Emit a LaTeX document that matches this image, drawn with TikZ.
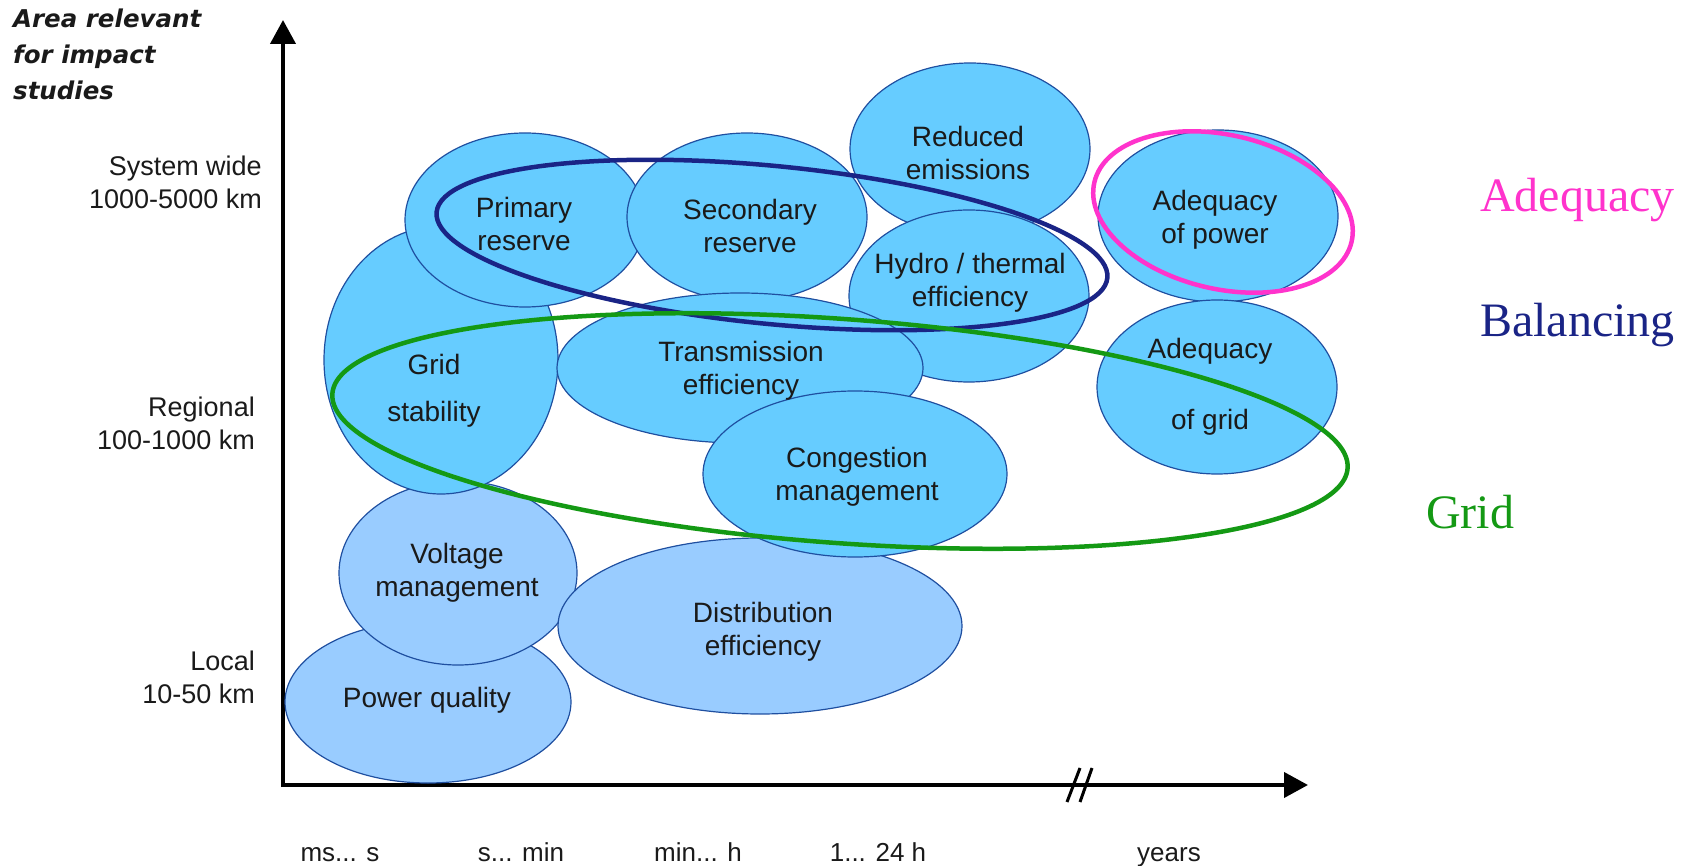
\documentclass[tikz,border=0pt]{standalone}
\usepackage{fontspec}
\setmainfont{Liberation Sans}
\newfontfamily\serifface{Liberation Serif}
\newfontfamily\headface{DejaVu Sans}
\usetikzlibrary{shapes.geometric,arrows.meta}
\definecolor{bubtop}{HTML}{66CCFF}
\definecolor{bublow}{HTML}{99CCFF}
\definecolor{bubedge}{HTML}{1F4FA0}
\definecolor{adeqc}{HTML}{FF33CC}
\definecolor{balanc}{HTML}{1A2486}
\definecolor{gridc}{HTML}{149914}
\definecolor{txtc}{HTML}{1A1A1A}
\begin{document}
\begin{tikzpicture}[x=1pt,y=1pt,
  bub/.style={ellipse, draw=bubedge, line width=1.2pt, inner sep=0pt, fill=bubtop},
  bublo/.style={bub, fill=bublow},
  lbl/.style={align=center, text=txtc, inner sep=0pt, font=\fontsize{28}{33}\selectfont},
  axlbl/.style={align=right, anchor=east, text=txtc, inner sep=0pt, font=\fontsize{27}{33}\selectfont},
  tlbl/.style={anchor=base, text=txtc, inner sep=0pt, font=\fontsize{26}{30}\selectfont},
  grp/.style={line width=4.5pt},
  axisline/.style={line width=4pt, -{Triangle[length=24pt,width=25pt]}},
  catlbl/.style={anchor=base west, inner sep=0pt, font=\serifface\fontsize{48}{56}\selectfont}
]
\useasboundingbox (0,0) rectangle (1687,-866);

% axes
\coordinate (o) at (283,-785);
\coordinate (ytip) at (283,-20);
\coordinate (xtip) at (1308,-785);
\draw[axisline] ([yshift=-2pt]o) -- (ytip);
\draw[axisline] ([xshift=-2pt]o) -- (xtip);
% axis break
\draw[line width=3pt] (1067,-802) -- (1080,-768);
\draw[line width=3pt] (1080,-802) -- (1092,-768);

% impact areas
\node[bublo, minimum width=286, minimum height=162] (pq) at (428,-702) {};
\node[bublo, minimum width=238, minimum height=184] (vm) at (458,-573) {};
\node[bub, minimum width=234, minimum height=268] (gs) at (441,-360) {};
\node[bub, minimum width=240, minimum height=174] (pr) at (525,-220) {};
\node[bub, minimum width=240, minimum height=168] (sr) at (747,-217) {};
\node[bub, minimum width=240, minimum height=172] (re) at (970,-149) {};
\node[bub, minimum width=240, minimum height=172] (he) at (969,-296) {};
\node[bub, minimum width=366, minimum height=150] (te) at (740,-368) {};
\node[bublo, minimum width=404, minimum height=176] (de) at (760,-626) {};
\node[bub, minimum width=304, minimum height=166] (cm) at (855,-474) {};
\node[bub, minimum width=240, minimum height=172] (ap) at (1218,-216) {};
\node[bub, minimum width=240, minimum height=174] (ag) at (1217,-387) {};

% groupings
\coordinate (balc) at (772,-245);
\draw[grp, balanc, rotate around={-5.6:(balc)}] (balc) ellipse [x radius=337, y radius=79];
\coordinate (gridcen) at (840,-431);
\draw[grp, gridc, rotate around={-4.2:(gridcen)}] (gridcen) ellipse [x radius=509, y radius=112];
\coordinate (adcen) at (1223,-212);
\draw[grp, adeqc, rotate around={-13:(adcen)}] (adcen) ellipse [x radius=132, y radius=77];

% area texts
\node[lbl] (pqt) at (427,-700) {Power quality};
\node[lbl] (vmt) at (457,-573) {Voltage\\management};
\node[lbl] (gst) at (434,-391) {Grid\\[14pt]stability};
\node[lbl] (prt) at (524,-224) {Primary\\reserve};
\node[lbl] (srt) at (750,-226) {Secondary\\reserve};
\node[lbl] (ret) at (968,-153) {Reduced\\emissions};
\node[lbl] (het) at (970,-283) {Hydro / thermal\\efficiency};
\node[lbl] (tet) at (741,-371) {Transmission\\efficiency};
\node[lbl] (cmt) at (857,-477) {Congestion\\management};
\node[lbl] (det) at (763,-632) {Distribution\\efficiency};
\node[lbl] (apt) at (1215,-220) {Adequacy\\of power};
\node[lbl] (agt) at (1210,-387) {Adequacy\\[38pt]of grid};

% vertical axis
\node[anchor=north west, align=left, inner sep=0pt, text=txtc,
      font=\headface\bfseries\itshape\fontsize{24.5}{36}\selectfont] (ytitle) at (13,-9)
      {Area relevant\\for impact\\studies};
\node[axlbl] (sysw) at (262,-182) {System wide\\1000-5000 km};
\node[axlbl] (regl) at (255,-423) {Regional\\100-1000 km};
\node[axlbl] (locl) at (255,-677) {Local\\10-50 km};

% horizontal axis
\node[tlbl] (t1) at (340,-861) {ms... s};
\node[tlbl] (t2) at (521,-861) {s... min};
\node[tlbl] (t3) at (698,-861) {min... h};
\node[tlbl] (t4) at (878,-861) {1... 24 h};
\node[tlbl] (t5) at (1169,-861) {years};

% categories
\node[catlbl, text=adeqc] (cata) at (1480,-212) {Adequacy};
\node[catlbl, text=balanc] (catb) at (1480,-337) {Balancing};
\node[catlbl, text=gridc] (catg) at (1426,-528) {Grid};
\end{tikzpicture}
\end{document}
